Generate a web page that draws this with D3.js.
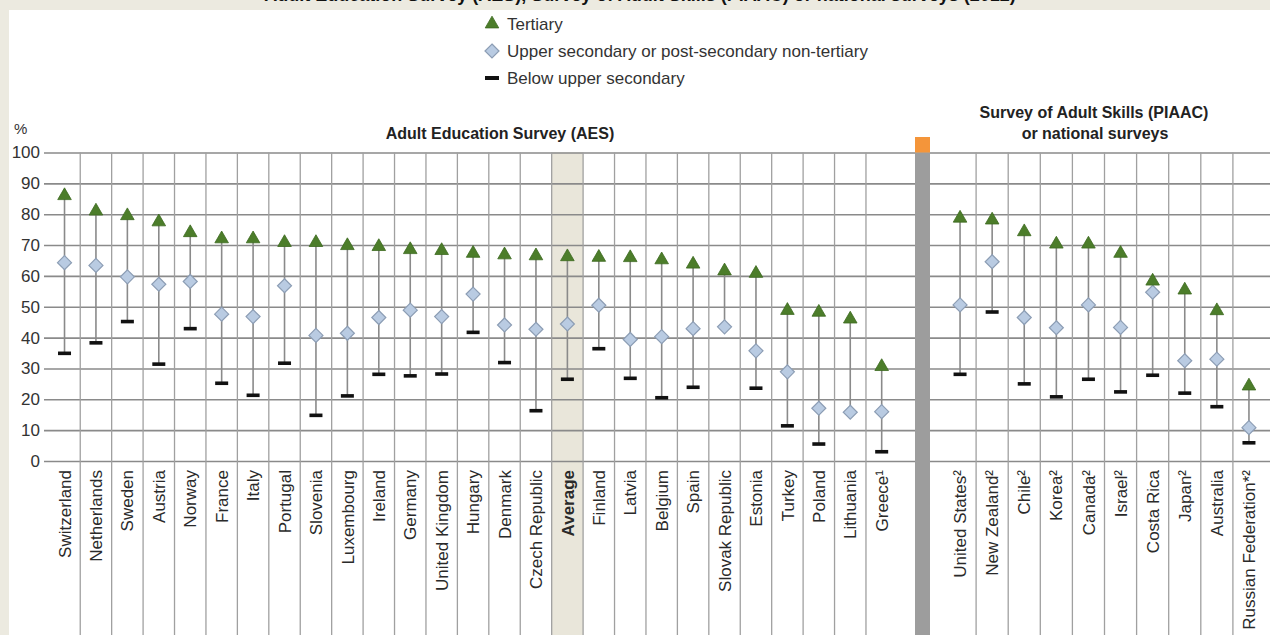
<!DOCTYPE html>
<html>
<head>
<meta charset="utf-8">
<script src="https://cdn.jsdelivr.net/npm/d3@7"></script>
<style>
  html, body { margin: 0; padding: 0; background: #ECEAE0; }
  svg { display: block; }
  text { font-family: "Liberation Sans", Arial, sans-serif; }
</style>
</head>
<body>
<svg id="chart" width="1270" height="635"></svg>
<script>
// ---------- DATA ----------
const aesCountries = ["Switzerland","Netherlands","Sweden","Austria","Norway","France","Italy","Portugal",
  "Slovenia","Luxembourg","Ireland","Germany","United Kingdom","Hungary","Denmark","Czech Republic",
  "Average","Finland","Latvia","Belgium","Spain","Slovak Republic","Estonia","Turkey","Poland",
  "Lithuania","Greece¹"];
const aesTertiary = [86, 81, 79.5, 77.5, 74, 72, 72, 70.8, 70.8, 69.8, 69.5, 68.5, 68.2, 67.3, 66.8, 66.5,
  66.2, 66, 65.9, 65.2, 63.8, 61.6, 60.8, 48.8, 48.2, 46, 30.6];
const aesUpperSecondary = [64.3, 63.4, 59.7, 57.3, 58.2, 47.6, 46.8, 56.8, 40.7, 41.4, 46.5, 48.9, 46.8, 54.1,
  44.1, 42.7, 44.4, 50.5, 39.4, 40.3, 42.9, 43.5, 35.7, 28.9, 17.1, 15.8, 16.0];
const aesBelowUpper = [34.9, 38.3, 45.2, 31.4, 42.9, 25.2, 21.3, 31.7, 14.8, 21.1, 28.1, 27.6, 28.2, 41.7,
  31.9, 16.3, 26.5, 36.4, 26.8, 20.5, 23.9, null, 23.6, 11.4, 5.5, null, 3.0];

const piaacCountries = ["United States²","New Zealand²","Chile²","Korea²","Canada²","Israel²",
  "Costa Rica","Japan²","Australia","Russian Federation*²"];
const piaacTertiary = [78.7, 78.1, 74.3, 70.3, 70.3, 67.3, 58.3, 55.4, 48.7, 24.3];
const piaacUpperSecondary = [50.6, 64.6, 46.5, 43.2, 50.6, 43.3, 54.7, 32.5, 33.0, 10.8];
const piaacBelowUpper = [28.1, 48.3, 25.0, 20.8, 26.5, 22.4, 27.8, 22.0, 17.6, 5.9];

const yTicks = [0,10,20,30,40,50,60,70,80,90,100];
const legendLabels = ["Tertiary","Upper secondary or post-secondary non-tertiary","Below upper secondary"];
const groupTitles = ["Adult Education Survey (AES)","Survey of Adult Skills (PIAAC)","or national surveys"];
const topTitle = "Adult Education Survey (AES), Survey of Adult Skills (PIAAC) or national surveys (2012)";
const averageLabel = "Average";

// ---------- LAYOUT ----------
const W = 1270, H = 635;
const svg = d3.select("#chart");
const plotTop = 152.5, plotBottom = 461, gridLeft = 44;

const y = d3.scaleLinear().domain([0,100]).range([plotBottom, plotTop]);
const xA = d3.scaleBand().domain(aesCountries).range([48.8, 897.4]).padding(0);
const xP = d3.scaleBand().domain(piaacCountries).range([944, 1265]).padding(0);

// backgrounds
svg.append("rect").attr("width", W).attr("height", H).attr("fill", "#ECEAE0");
svg.append("text").attr("x", 640).attr("y", 0.5).attr("text-anchor","middle")
  .attr("font-size", 18).attr("font-weight","bold").attr("fill","#111").text(topTitle);
svg.append("rect").attr("x", 9).attr("y", 10).attr("width", W-9).attr("height", H-10).attr("fill", "#fff");

// average shading
svg.append("rect").attr("x", xA(averageLabel)).attr("y", plotTop)
  .attr("width", xA.bandwidth()).attr("height", H - plotTop).attr("fill", "#E9E6DA");

// horizontal grid + y labels
const yAxis = d3.axisLeft(y).tickValues(yTicks).tickSize(-(W - gridLeft)).tickPadding(4);
const gy = svg.append("g").attr("transform", `translate(${gridLeft},0)`).call(yAxis);
gy.select(".domain").remove();
gy.selectAll(".tick line").attr("stroke", "#8a8a8a").attr("stroke-width", 1.6);
gy.selectAll(".tick text").attr("font-size", 17).attr("fill", "#333")
  .attr("font-family", "'Liberation Sans', Arial, sans-serif");

// vertical grid
function vgrid(scale, list) {
  list.slice(1).forEach(c => {
    svg.append("line").attr("x1", scale(c)).attr("x2", scale(c))
      .attr("y1", plotTop).attr("y2", H)
      .attr("stroke", "#a0a0a0").attr("stroke-width", 1.3);
  });
}
vgrid(xA, aesCountries);
vgrid(xP, piaacCountries);

// separator bar
svg.append("rect").attr("x", 915).attr("y", plotTop).attr("width", 15).attr("height", H - plotTop).attr("fill", "#9d9d9d");
svg.append("rect").attr("x", 915).attr("y", 137).attr("width", 15).attr("height", plotTop - 137).attr("fill", "#F4953A");

// markers
const triPath = d3.symbol(d3.symbolTriangle, 80)();
const diaPath = "M0,-7L7,0L0,7L-7,0Z";

function drawSeries(scale, cats, tert, upper, below) {
  const g = svg.append("g");
  const cx = c => scale(c) + scale.bandwidth() / 2;
  cats.forEach((c, i) => {
    const low = below[i] != null ? below[i] : upper[i];
    g.append("line").attr("x1", cx(c)).attr("x2", cx(c))
      .attr("y1", y(tert[i])).attr("y2", y(low))
      .attr("stroke", "#8a8a8a").attr("stroke-width", 1.6);
  });
  cats.forEach((c, i) => {
    if (below[i] != null) {
      g.append("rect").attr("x", cx(c) - 6.5).attr("y", y(below[i]) - 1.8)
        .attr("width", 13).attr("height", 3.6).attr("fill", "#111");
    }
  });
  cats.forEach((c, i) => {
    g.append("path").attr("d", diaPath).attr("transform", `translate(${cx(c)},${y(upper[i])})`)
      .attr("fill", "#B9CBE2").attr("stroke", "#8C9DB4").attr("stroke-width", 1.2);
  });
  cats.forEach((c, i) => {
    g.append("path").attr("d", triPath).attr("transform", `translate(${cx(c)},${y(tert[i])})`)
      .attr("fill", "#4C7D2A").attr("stroke", "#3C6920").attr("stroke-width", 0.8);
  });
  cats.forEach(c => {
    svg.append("text")
      .attr("transform", `translate(${cx(c)},470) rotate(-90)`)
      .attr("text-anchor", "end").attr("dy", "0.36em")
      .attr("font-size", 17).attr("fill", "#2a2a2a")
      .attr("font-weight", c === averageLabel ? "bold" : "normal")
      .text(c);
  });
}
drawSeries(xA, aesCountries, aesTertiary, aesUpperSecondary, aesBelowUpper);
drawSeries(xP, piaacCountries, piaacTertiary, piaacUpperSecondary, piaacBelowUpper);

// headers
svg.append("text").attr("x", 14).attr("y", 134).attr("font-size", 15).attr("fill", "#333").text("%");
svg.append("text").attr("x", 500).attr("y", 139).attr("text-anchor","middle")
  .attr("font-size", 16).attr("font-weight","bold").attr("fill","#222").text(groupTitles[0]);
svg.append("text").attr("x", 1094).attr("y", 118).attr("text-anchor","middle")
  .attr("font-size", 16).attr("font-weight","bold").attr("fill","#222").text(groupTitles[1]);
svg.append("text").attr("x", 1095).attr("y", 139).attr("text-anchor","middle")
  .attr("font-size", 16).attr("font-weight","bold").attr("fill","#222").text(groupTitles[2]);

// legend
const lg = svg.append("g");
const legendY = [24, 51, 78];
lg.append("path").attr("d", triPath).attr("transform", `translate(492,${legendY[0]})`)
  .attr("fill", "#4C7D2A").attr("stroke", "#3C6920").attr("stroke-width", 0.8);
lg.append("path").attr("d", diaPath).attr("transform", `translate(492,${legendY[1]})`)
  .attr("fill", "#B9CBE2").attr("stroke", "#8C9DB4").attr("stroke-width", 1.2);
lg.append("rect").attr("x", 485).attr("y", legendY[2] - 2).attr("width", 14).attr("height", 4).attr("fill", "#111");
legendLabels.forEach((t, i) => {
  lg.append("text").attr("x", 507).attr("y", legendY[i]).attr("dy", "0.36em")
    .attr("font-size", 17).attr("fill", "#333").text(t);
});
</script>
</body>
</html>
